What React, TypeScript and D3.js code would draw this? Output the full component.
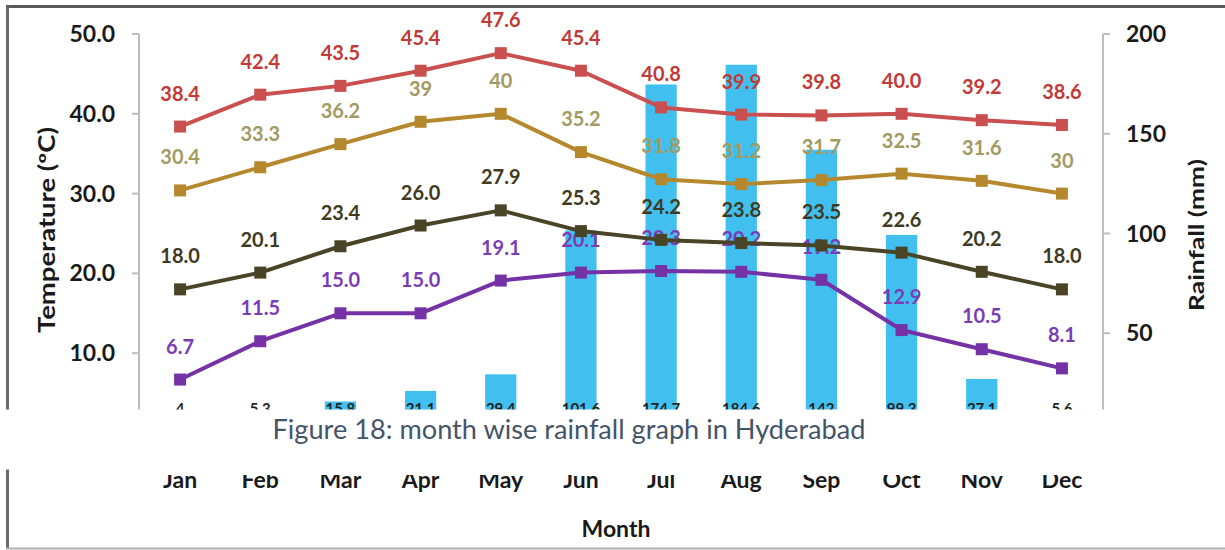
import * as d3 from "d3";

const months = ["Jan", "Feb", "Mar", "Apr", "May", "Jun", "Jul", "Aug", "Sep", "Oct", "Nov", "Dec"];
const extremeMax = [38.4, 42.4, 43.5, 45.4, 47.6, 45.4, 40.8, 39.9, 39.8, 40.0, 39.2, 38.6];
const meanMax = [30.4, 33.3, 36.2, 39, 40, 35.2, 31.8, 31.2, 31.7, 32.5, 31.6, 30];
const meanMin = [18.0, 20.1, 23.4, 26.0, 27.9, 25.3, 24.2, 23.8, 23.5, 22.6, 20.2, 18.0];
const extremeMin = [6.7, 11.5, 15.0, 15.0, 19.1, 20.1, 20.3, 20.2, 19.2, 12.9, 10.5, 8.1];
const rainfall = [4, 5.3, 15.8, 21.1, 29.4, 101.6, 174.7, 184.6, 142, 99.3, 27.1, 5.6];
const tempTicks = [10, 20, 30, 40, 50];
const rainTicks = [50, 100, 150, 200];

const series = [
  { values: extremeMax, line: "#C9504F", label: "#C23A36", fmt: (v: number) => v.toFixed(1) },
  { values: meanMax, line: "#B6882E", label: "#A29A63", fmt: (v: number) => String(v) },
  { values: meanMin, line: "#4A4427", label: "#3F3A22", fmt: (v: number) => v.toFixed(1) },
  { values: extremeMin, line: "#7432A6", label: "#7B3DB6", fmt: (v: number) => v.toFixed(1) },
];

const font = "Lato, 'Open Sans', sans-serif";

function App() {
  const left = 139;
  const right = 1103;
  const top = 34;
  const base = 433;

  const x = d3.scaleBand<string>().domain(months).range([left + 1, right - 1]);
  const cx = (m: string) => (x(m) ?? 0) + x.bandwidth() / 2;
  const yT = d3.scaleLinear().domain([0, 50]).range([base, top]);
  const yR = d3.scaleLinear().domain([0, 200]).range([base, top]);
  const barW = x.step() * 0.39;

  const line = d3
    .line<number>()
    .x((_, i) => cx(months[i]))
    .y((d) => yT(d));

  return (
    <>
      <style>{"body{margin:0}"}</style>
      <svg width={1225} height={550} style={{ display: "block", fontFamily: font }}>
        <rect width={1225} height={550} fill="#fff" />

        {/* frame */}
        <line x1={6} y1={6.5} x2={1225} y2={6.5} stroke="#5a5a5a" strokeWidth={3} />
        <line x1={7.5} y1={6} x2={7.5} y2={548} stroke="#6a6a6a" strokeWidth={3} />
        <line x1={6} y1={548.5} x2={1225} y2={548.5} stroke="#b0b0b0" strokeWidth={2} />

        {/* rainfall bars */}
        {rainfall.map((r, i) => (
          <rect
            key={months[i]}
            x={cx(months[i]) - barW / 2}
            y={yR(r)}
            width={barW}
            height={base - yR(r)}
            fill="#41C0EF"
          />
        ))}
        {rainfall.map((r, i) => (
          <text
            key={months[i]}
            x={cx(months[i])}
            y={base - 19}
            textAnchor="middle"
            fontSize={15}
            fontWeight="bold"
            fill="#1f1f1f"
          >
            {String(r)}
          </text>
        ))}

        {/* axes */}
        <line x1={left} y1={top} x2={left} y2={420} stroke="#bdbdbd" strokeWidth={2} />
        {tempTicks.map((t) => (
          <g key={t}>
            <line x1={left - 7} x2={left} y1={yT(t)} y2={yT(t)} stroke="#bdbdbd" strokeWidth={2} />
            <text x={115} y={yT(t) + 8} textAnchor="end" fontSize={23} fontWeight="bold" fill="#1a1a1a">
              {t.toFixed(1)}
            </text>
          </g>
        ))}
        <line x1={right} y1={top} x2={right} y2={420} stroke="#bdbdbd" strokeWidth={2} />
        {rainTicks.map((t) => (
          <g key={t}>
            <line x1={right} x2={right + 7} y1={yR(t)} y2={yR(t)} stroke="#bdbdbd" strokeWidth={2} />
            <text x={1126} y={yR(t) + 8} fontSize={23} fontWeight="bold" fill="#1a1a1a">
              {t}
            </text>
          </g>
        ))}

        {/* data labels */}
        {series.map((s, si) =>
          s.values.map((v, i) => (
            <text
              key={`${si}-${i}`}
              x={cx(months[i])}
              y={yT(v) - 26}
              textAnchor="middle"
              fontSize={20}
              fontWeight="bold"
              fill={s.label}
            >
              {s.fmt(v)}
            </text>
          ))
        )}

        {/* temperature lines */}
        {series.map((s, si) => (
          <g key={si}>
            <path d={line(s.values) ?? ""} fill="none" stroke={s.line} strokeWidth={4} strokeLinejoin="round" />
            {s.values.map((v, i) => (
              <rect key={i} x={cx(months[i]) - 6} y={yT(v) - 6} width={12} height={12} fill={s.line} />
            ))}
          </g>
        ))}

        {/* axis titles */}
        <text
          transform="translate(55,230) rotate(-90)"
          textAnchor="middle"
          fontSize={22}
          fontWeight="bold"
          fill="#1a1a1a"
          textLength={206}
          lengthAdjust="spacingAndGlyphs"
        >
          Temperature (ºC)
        </text>
        <text
          transform="translate(1204,235) rotate(-90)"
          textAnchor="middle"
          fontSize={21}
          fontWeight="bold"
          fill="#1a1a1a"
          textLength={152}
          lengthAdjust="spacingAndGlyphs"
        >
          Rainfall (mm)
        </text>

        {/* caption band covering the lower part of the chart */}
        <rect x={0} y={409.5} width={1225} height={60} fill="#fff" />
        <text
          x={569}
          y={439}
          textAnchor="middle"
          fontSize={27}
          fill="#44546A"
          textLength={593}
          lengthAdjust="spacingAndGlyphs"
        >
          Figure 18: month wise rainfall graph in Hyderabad
        </text>

        {/* month labels, tops hidden by the band */}
        <defs>
          <clipPath id="below-band">
            <rect x={0} y={475} width={1225} height={75} />
          </clipPath>
        </defs>
        <g clipPath="url(#below-band)">
          {months.map((m) => (
            <text key={m} x={cx(m)} y={488} textAnchor="middle" fontSize={23} fontWeight="bold" fill="#1a1a1a">
              {m}
            </text>
          ))}
        </g>
        <text x={616} y={537} textAnchor="middle" fontSize={23} fontWeight="bold" fill="#1a1a1a">
          Month
        </text>
      </svg>
    </>
  );
}

export default App;
